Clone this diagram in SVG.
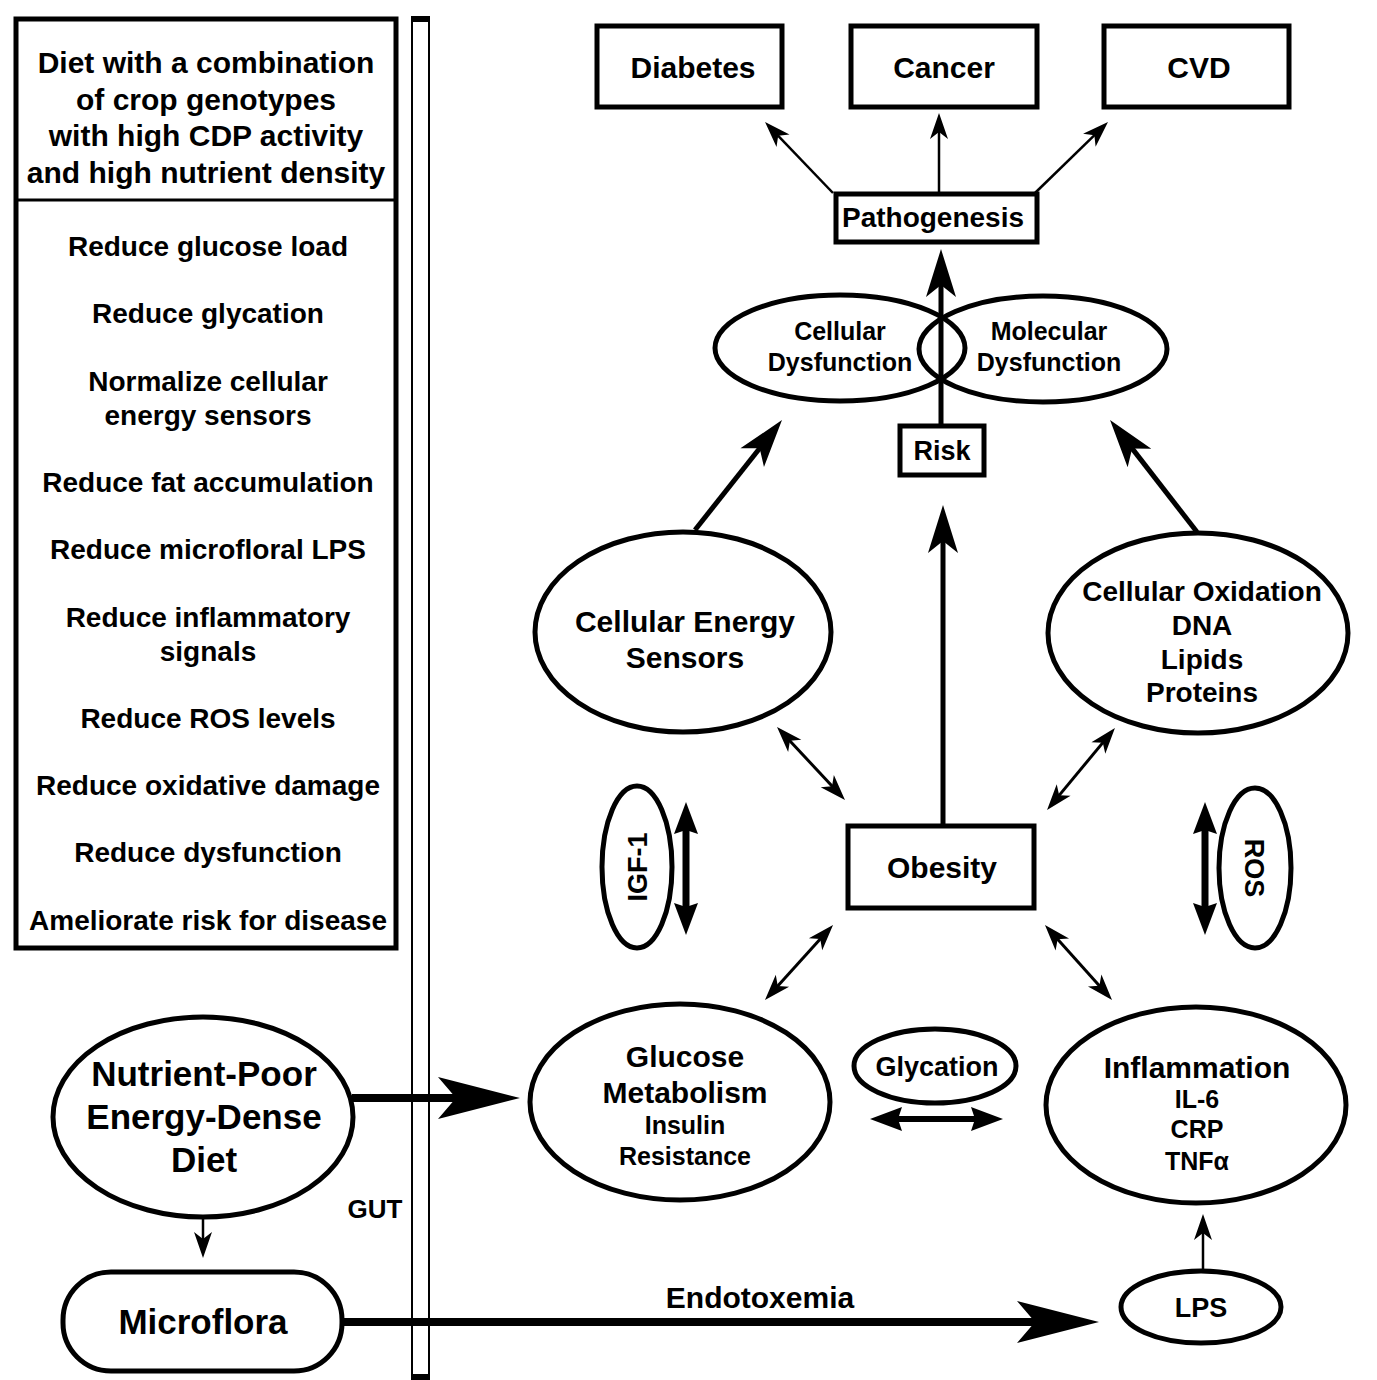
<svg xmlns="http://www.w3.org/2000/svg" width="1377" height="1380" viewBox="0 0 1377 1380">
<style>
text{font-family:"Liberation Sans",Arial,sans-serif;font-weight:bold;fill:#000;text-anchor:middle}
.b{fill:#fff;stroke:#000;stroke-width:5}
.n{fill:none;stroke:#000;stroke-width:5}
.thin{stroke:#000;stroke-width:2.5;fill:none}
.med{stroke:#000;stroke-width:5;fill:none}
.big{stroke:#000;stroke-width:8;fill:none}
.dbl{stroke:#000;stroke-width:3;fill:none}
.t30{font-size:30px}.t28{font-size:28px}.t25{font-size:25px}.t27{font-size:27px}.t35{font-size:35px}.t26{font-size:26px}
</style>
<defs>
<marker id="mBig" markerUnits="userSpaceOnUse" markerWidth="90" markerHeight="50" viewBox="-86 -25 90 50" refX="-60" refY="0" orient="auto-start-reverse"><path d="M0,0 L-82,-21 L-64,0 L-82,21 Z" fill="#000"/></marker>
<marker id="mMed" markerUnits="userSpaceOnUse" markerWidth="54" markerHeight="36" viewBox="-50 -18 54 36" refX="-34" refY="0" orient="auto-start-reverse"><path d="M0,0 L-48,-15 L-36,0 L-48,15 Z" fill="#000"/></marker>
<marker id="mSmall" markerUnits="userSpaceOnUse" markerWidth="32" markerHeight="24" viewBox="-28 -12 32 24" refX="-17" refY="0" orient="auto-start-reverse"><path d="M0,0 L-26,-9 L-19,0 L-26,9 Z" fill="#000"/></marker>
<marker id="mThick" markerUnits="userSpaceOnUse" markerWidth="38" markerHeight="30" viewBox="-34 -15 38 30" refX="-26" refY="0" orient="auto-start-reverse"><path d="M0,0 L-32,-12 L-28,0 L-32,12 Z" fill="#000"/></marker>
</defs>

<g id="gut">
<line x1="412" y1="16" x2="412" y2="1380" stroke="#000" stroke-width="2"/>
<line x1="429" y1="16" x2="429" y2="1380" stroke="#000" stroke-width="2"/>
<rect x="411" y="16" width="19" height="6" fill="#000"/>
<rect x="411" y="1374" width="19" height="6" fill="#000"/>
<text x="375" y="1218" class="t26">GUT</text>
</g>

<g id="leftbox">
<rect x="16" y="19" width="380" height="929" class="b" stroke-width="4"/>
<line x1="16" y1="200" x2="396" y2="200" stroke="#000" stroke-width="3"/>
<text x="206" y="73" class="t30">Diet with a combination</text>
<text x="206" y="110" class="t30">of crop genotypes</text>
<text x="206" y="146" class="t30">with high CDP activity</text>
<text x="206" y="183" class="t30">and high nutrient density</text>
<text x="208" y="256" class="t28">Reduce glucose load</text>
<text x="208" y="323" class="t28">Reduce glycation</text>
<text x="208" y="391" class="t28">Normalize cellular</text>
<text x="208" y="425" class="t28">energy sensors</text>
<text x="208" y="492" class="t28">Reduce fat accumulation</text>
<text x="208" y="559" class="t28">Reduce microfloral LPS</text>
<text x="208" y="627" class="t28">Reduce inflammatory</text>
<text x="208" y="661" class="t28">signals</text>
<text x="208" y="728" class="t28">Reduce ROS levels</text>
<text x="208" y="795" class="t28">Reduce oxidative damage</text>
<text x="208" y="862" class="t28">Reduce dysfunction</text>
<text x="208" y="930" class="t28">Ameliorate risk for disease</text>
</g>

<g id="connectors">
<line x1="833" y1="193" x2="776.8" y2="134.3" class="thin" marker-end="url(#mSmall)"/>
<line x1="939" y1="193" x2="939" y2="130" class="thin" marker-end="url(#mSmall)"/>
<line x1="1035" y1="193" x2="1095.8" y2="133.9" class="thin" marker-end="url(#mSmall)"/>
<line x1="941" y1="426" x2="941" y2="283" class="med" marker-end="url(#mMed)"/>
<line x1="943" y1="826" x2="943" y2="539" class="med" marker-end="url(#mMed)"/>
<line x1="695" y1="530" x2="760.9" y2="446.7" class="med" marker-end="url(#mMed)"/>
<line x1="1197" y1="532" x2="1130.9" y2="446.9" class="med" marker-end="url(#mMed)"/>
<line x1="788.6" y1="739.4" x2="833.4" y2="787.6" class="dbl" marker-start="url(#mSmall)" marker-end="url(#mSmall)"/>
<line x1="1104.1" y1="741.1" x2="1057.9" y2="796.9" class="dbl" marker-start="url(#mSmall)" marker-end="url(#mSmall)"/>
<line x1="821.6" y1="937.6" x2="776.4" y2="987.4" class="dbl" marker-start="url(#mSmall)" marker-end="url(#mSmall)"/>
<line x1="1056.3" y1="937.7" x2="1100.7" y2="987.3" class="dbl" marker-start="url(#mSmall)" marker-end="url(#mSmall)"/>
<line x1="686" y1="828" x2="686" y2="909" stroke="#000" stroke-width="7" marker-start="url(#mThick)" marker-end="url(#mThick)"/>
<line x1="1205" y1="828" x2="1205" y2="909" stroke="#000" stroke-width="7" marker-start="url(#mThick)" marker-end="url(#mThick)"/>
<line x1="896" y1="1119" x2="977" y2="1119" stroke="#000" stroke-width="6" marker-start="url(#mThick)" marker-end="url(#mThick)"/>
<line x1="1203" y1="1271" x2="1203" y2="1231" class="thin" marker-end="url(#mSmall)"/>
<line x1="203" y1="1212" x2="203" y2="1241" class="thin" marker-end="url(#mSmall)"/>
<line x1="352" y1="1098" x2="460" y2="1098" class="big" marker-end="url(#mBig)"/>
<line x1="342" y1="1322" x2="1039" y2="1322" class="big" marker-end="url(#mBig)"/>
<text x="760" y="1308" class="t30">Endotoxemia</text>
</g>

<g id="diabetes">
<rect x="597" y="26" width="185" height="81" class="b"/>
<text x="693" y="78" class="t30">Diabetes</text>
</g>
<g id="cancer">
<rect x="851" y="26" width="186" height="81" class="b"/>
<text x="944" y="78" class="t30">Cancer</text>
</g>
<g id="cvd">
<rect x="1104" y="26" width="185" height="81" class="b"/>
<text x="1199" y="78" class="t30">CVD</text>
</g>
<g id="pathogenesis">
<rect x="836" y="194" width="201" height="48" class="b"/>
<text x="933" y="227" class="t28">Pathogenesis</text>
</g>
<g id="cellular-dysfunction">
<ellipse cx="840" cy="348" rx="125" ry="53" class="n"/>
<text x="840" y="340" class="t25">Cellular</text>
<text x="840" y="371" class="t25">Dysfunction</text>
</g>
<g id="molecular-dysfunction">
<ellipse cx="1043" cy="349" rx="124" ry="53" class="n"/>
<text x="1049" y="340" class="t25">Molecular</text>
<text x="1049" y="371" class="t25">Dysfunction</text>
</g>
<g id="risk">
<rect x="900" y="426" width="84" height="49" class="b"/>
<text x="942" y="460" class="t27">Risk</text>
</g>
<g id="energy-sensors">
<ellipse cx="683" cy="632" rx="148" ry="100" class="b"/>
<text x="685" y="632" class="t30">Cellular Energy</text>
<text x="685" y="668" class="t30">Sensors</text>
</g>
<g id="oxidation">
<ellipse cx="1198" cy="633" rx="150" ry="100" class="b"/>
<text x="1202" y="601" class="t28">Cellular Oxidation</text>
<text x="1202" y="635" class="t28">DNA</text>
<text x="1202" y="669" class="t28">Lipids</text>
<text x="1202" y="702" class="t28">Proteins</text>
</g>
<g id="obesity">
<rect x="848" y="826" width="186" height="82" class="b"/>
<text x="942" y="878" class="t30">Obesity</text>
</g>
<g id="igf1">
<ellipse cx="637" cy="867" rx="35" ry="81" class="n"/>
<text x="637" y="876.7" class="t27" transform="rotate(-90 637 867)">IGF-1</text>
</g>
<g id="ros">
<ellipse cx="1255" cy="868" rx="36" ry="80" class="n"/>
<text x="1255" y="877.7" class="t27" transform="rotate(90 1255 868)">ROS</text>
</g>
<g id="glucose">
<ellipse cx="680" cy="1102" rx="150" ry="98" class="b"/>
<text x="685" y="1067" class="t30">Glucose</text>
<text x="685" y="1103" class="t30">Metabolism</text>
<text x="685" y="1134" class="t25">Insulin</text>
<text x="685" y="1165" class="t25">Resistance</text>
</g>
<g id="glycation">
<ellipse cx="935" cy="1066" rx="81" ry="37" class="n"/>
<text x="937" y="1076" class="t27">Glycation</text>
</g>
<g id="inflammation">
<ellipse cx="1196" cy="1105" rx="150" ry="98" class="b"/>
<text x="1197" y="1078" class="t30">Inflammation</text>
<text x="1197" y="1108" class="t25">IL-6</text>
<text x="1197" y="1138" class="t25">CRP</text>
<text x="1197" y="1170" class="t25">TNFα</text>
</g>
<g id="lps">
<ellipse cx="1201" cy="1307" rx="80" ry="36" class="n"/>
<text x="1201" y="1317" class="t27">LPS</text>
</g>
<g id="diet">
<ellipse cx="203" cy="1117" rx="150" ry="100" class="b"/>
<text x="204" y="1086" class="t35">Nutrient-Poor</text>
<text x="204" y="1129" class="t35">Energy-Dense</text>
<text x="204" y="1172" class="t35">Diet</text>
</g>
<g id="microflora">
<rect x="63" y="1272" width="279" height="99" rx="48" ry="48" class="b"/>
<text x="203" y="1334" class="t35">Microflora</text>
</g>
</svg>
